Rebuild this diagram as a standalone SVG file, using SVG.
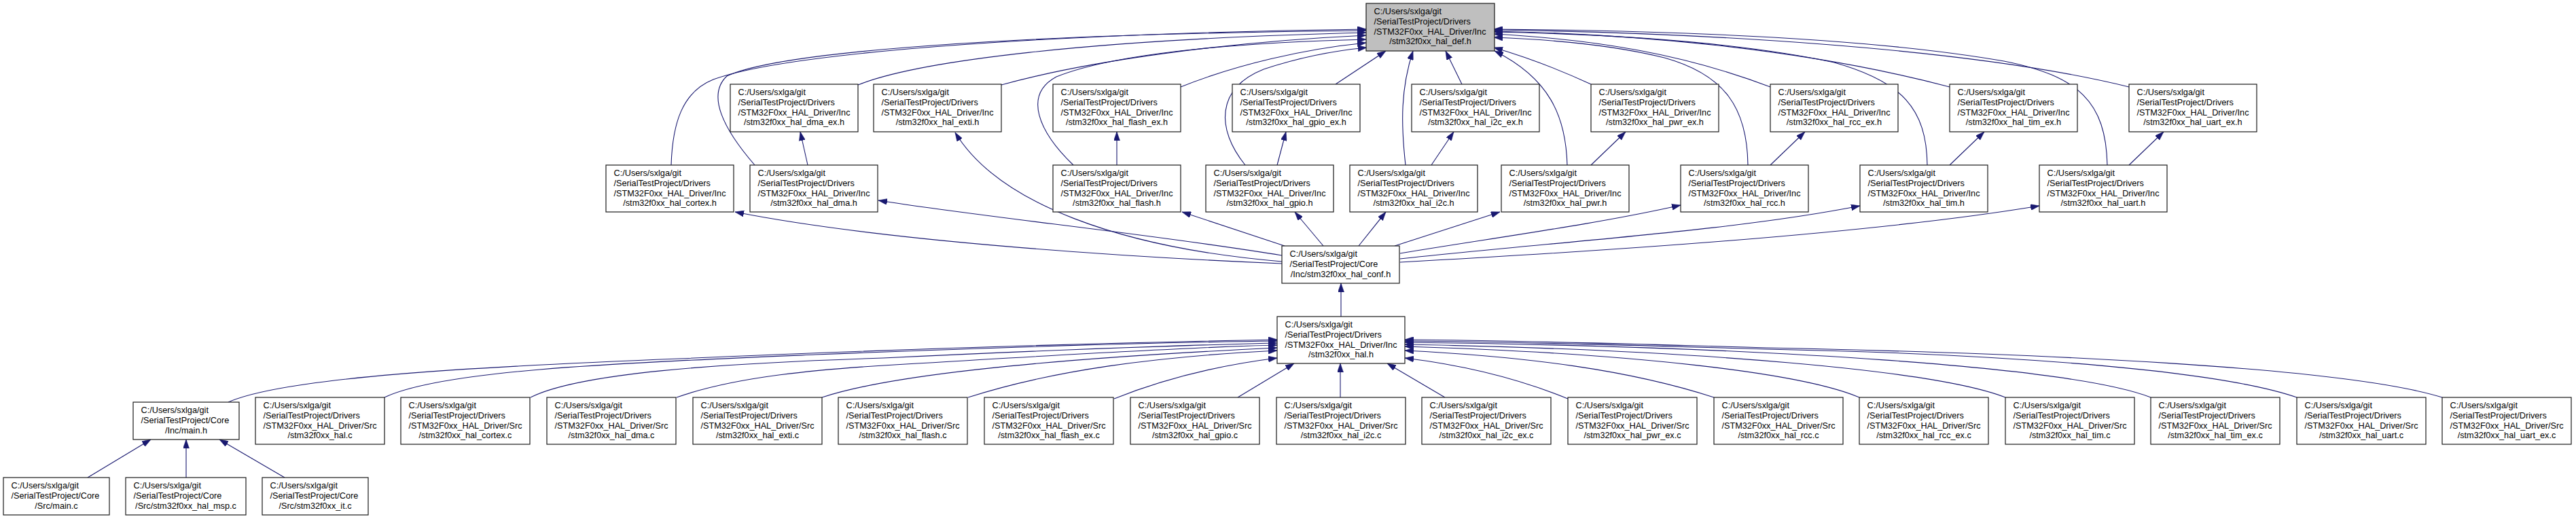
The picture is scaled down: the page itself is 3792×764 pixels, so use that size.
<svg xmlns="http://www.w3.org/2000/svg" width="3792" height="764" viewBox="0 0 3792 764">
<style>
.bg{fill:#ffffff}
.n rect{fill:#ffffff;stroke:#1a1a1a;stroke-width:1.2}
.n.root rect{fill:#bfbfbf}
.n text{font-family:"Liberation Sans",Arial,sans-serif;font-size:12.7px;fill:#000}
.n text.c{text-anchor:middle}
.e path{fill:none;stroke:#191970;stroke-width:1.1;marker-end:url(#ah)}
</style>
<defs>
<marker id="ah" viewBox="0 0 13 9" refX="13" refY="4.5" markerWidth="13" markerHeight="9" markerUnits="userSpaceOnUse" orient="auto">
<path d="M0,0 L13,4.5 L0,9 z" fill="#191970" stroke="#191970" stroke-width="0.6"/>
</marker>
</defs>
<rect class="bg" x="0" y="0" width="3792" height="764"/>

<g id="edges" class="e">
<!-- to hal_def.h -->
<path d="M988,243 C990,180 1005,135 1050,117 C1150,80 1500,50 2011,43"/>
<path d="M1111,243 C1065,190 1040,140 1070,112 C1150,75 1500,50 2011,45"/>
<path d="M1263,125 C1350,90 1600,58 2011,48"/>
<path d="M1474,125 C1600,90 1800,62 2011,52"/>
<path d="M1580,243 C1530,195 1505,140 1555,113 C1650,75 1850,62 2011,58"/>
<path d="M1738,128 C1820,95 1920,72 2011,63"/>
<path d="M1833,243 C1790,190 1790,130 1860,102 C1920,82 1970,74 2012,70"/>
<path d="M1966,124 L2040,75"/>
<path d="M2069,243 C2062,180 2062,130 2080,75"/>
<path d="M2152,124 L2128,75"/>
<path d="M2307,243 C2305,170 2280,115 2200,75"/>
<path d="M2342,124 C2290,100 2240,82 2199,70"/>
<path d="M2573,243 C2572,160 2540,110 2450,85 C2370,65 2280,58 2199,55"/>
<path d="M2606,128 C2480,80 2350,58 2199,50"/>
<path d="M2837,243 C2836,160 2800,120 2700,92 C2550,60 2350,50 2199,47"/>
<path d="M2870,128 C2650,70 2400,50 2199,46"/>
<path d="M3102,243 C3100,150 3060,112 2950,90 C2750,55 2450,45 2199,43"/>
<path d="M3134,128 C2900,70 2500,48 2199,44"/>
<!-- row2 to row1 -->
<path d="M1189,243 L1178,194"/>
<path d="M1644,243 L1644,194"/>
<path d="M1880,243 L1893,194"/>
<path d="M2107,243 L2140,194"/>
<path d="M2342,243 L2393,194"/>
<path d="M2606,243 L2657,194"/>
<path d="M2870,243 L2921,194"/>
<path d="M3134,243 L3185,194"/>
<!-- hal_conf to row2 / exti -->
<path d="M1887,388 C1650,378 1300,355 1082,312"/>
<path d="M1887,376 C1700,345 1450,320 1293,295"/>
<path d="M1887,385 C1650,365 1470,300 1406,195"/>
<path d="M1891,362 L1740,312"/>
<path d="M1948,362 L1906,312"/>
<path d="M2000,362 L2040,312"/>
<path d="M2053,362 L2208,312"/>
<path d="M2061,373 C2200,350 2350,330 2474,302"/>
<path d="M2061,381 C2300,355 2550,340 2738,303"/>
<path d="M2061,386 C2350,370 2750,345 3002,303"/>
<!-- hal.h to hal_conf -->
<path d="M1974,466 L1974,417"/>
<!-- row5 to hal.h -->
<path d="M336,592 C420,555 700,540 1000,528 C1300,515 1600,505 1880,500"/>
<path d="M566,585 C650,545 900,535 1200,522 C1450,512 1700,504 1880,502"/>
<path d="M781,585 C850,550 1050,535 1300,527 C1550,515 1750,508 1880,505"/>
<path d="M996,585 C1080,555 1200,543 1350,535 C1600,520 1780,510 1880,508"/>
<path d="M1210,585 C1300,555 1500,530 1880,512"/>
<path d="M1425,585 C1550,545 1700,525 1880,516"/>
<path d="M1640,587 C1720,555 1800,537 1880,527"/>
<path d="M1822,585 L1905,535"/>
<path d="M1973,585 L1973,535"/>
<path d="M2127,585 L2042,535"/>
<path d="M2308,587 C2230,555 2150,537 2068,527"/>
<path d="M2523,585 C2400,545 2250,525 2068,516"/>
<path d="M2737,585 C2650,548 2400,520 2068,510"/>
<path d="M2952,585 C2850,545 2500,515 2068,507"/>
<path d="M3166,585 C3050,540 2600,510 2068,504"/>
<path d="M3381,585 C3250,540 2900,520 2600,514 C2400,508 2200,503 2068,502"/>
<path d="M3595,585 C3450,540 3000,520 2600,512 C2400,506 2200,501 2068,500"/>
<!-- to main.h -->
<path d="M129,703 L222,647"/>
<path d="M274,703 L274,647"/>
<path d="M419,703 L323,647"/>
</g>

<!-- row 0 -->
<g id="hal_def_h" class="n root"><rect x="2011" y="5" width="189" height="70"/><text x="2022.5" y="21">C:/Users/sxlga/git</text><text x="2022.5" y="35.8">/SerialTestProject/Drivers</text><text x="2022.5" y="50.6">/STM32F0xx_HAL_Driver/Inc</text><text class="c" x="2105.5" y="65.4">/stm32f0xx_hal_def.h</text></g>

<!-- row 1 -->
<g id="hal_dma_ex_h" class="n"><rect x="1075" y="124" width="188" height="70"/><text x="1086.5" y="140">C:/Users/sxlga/git</text><text x="1086.5" y="154.8">/SerialTestProject/Drivers</text><text x="1086.5" y="169.6">/STM32F0xx_HAL_Driver/Inc</text><text class="c" x="1169" y="184.4">/stm32f0xx_hal_dma_ex.h</text></g>
<g id="hal_exti_h" class="n"><rect x="1286" y="124" width="188" height="70"/><text x="1297.5" y="140">C:/Users/sxlga/git</text><text x="1297.5" y="154.8">/SerialTestProject/Drivers</text><text x="1297.5" y="169.6">/STM32F0xx_HAL_Driver/Inc</text><text class="c" x="1380" y="184.4">/stm32f0xx_hal_exti.h</text></g>
<g id="hal_flash_ex_h" class="n"><rect x="1550" y="124" width="188" height="70"/><text x="1561.5" y="140">C:/Users/sxlga/git</text><text x="1561.5" y="154.8">/SerialTestProject/Drivers</text><text x="1561.5" y="169.6">/STM32F0xx_HAL_Driver/Inc</text><text class="c" x="1644" y="184.4">/stm32f0xx_hal_flash_ex.h</text></g>
<g id="hal_gpio_ex_h" class="n"><rect x="1814" y="124" width="188" height="70"/><text x="1825.5" y="140">C:/Users/sxlga/git</text><text x="1825.5" y="154.8">/SerialTestProject/Drivers</text><text x="1825.5" y="169.6">/STM32F0xx_HAL_Driver/Inc</text><text class="c" x="1908" y="184.4">/stm32f0xx_hal_gpio_ex.h</text></g>
<g id="hal_i2c_ex_h" class="n"><rect x="2078" y="124" width="188" height="70"/><text x="2089.5" y="140">C:/Users/sxlga/git</text><text x="2089.5" y="154.8">/SerialTestProject/Drivers</text><text x="2089.5" y="169.6">/STM32F0xx_HAL_Driver/Inc</text><text class="c" x="2172" y="184.4">/stm32f0xx_hal_i2c_ex.h</text></g>
<g id="hal_pwr_ex_h" class="n"><rect x="2342" y="124" width="188" height="70"/><text x="2353.5" y="140">C:/Users/sxlga/git</text><text x="2353.5" y="154.8">/SerialTestProject/Drivers</text><text x="2353.5" y="169.6">/STM32F0xx_HAL_Driver/Inc</text><text class="c" x="2436" y="184.4">/stm32f0xx_hal_pwr_ex.h</text></g>
<g id="hal_rcc_ex_h" class="n"><rect x="2606" y="124" width="188" height="70"/><text x="2617.5" y="140">C:/Users/sxlga/git</text><text x="2617.5" y="154.8">/SerialTestProject/Drivers</text><text x="2617.5" y="169.6">/STM32F0xx_HAL_Driver/Inc</text><text class="c" x="2700" y="184.4">/stm32f0xx_hal_rcc_ex.h</text></g>
<g id="hal_tim_ex_h" class="n"><rect x="2870" y="124" width="188" height="70"/><text x="2881.5" y="140">C:/Users/sxlga/git</text><text x="2881.5" y="154.8">/SerialTestProject/Drivers</text><text x="2881.5" y="169.6">/STM32F0xx_HAL_Driver/Inc</text><text class="c" x="2964" y="184.4">/stm32f0xx_hal_tim_ex.h</text></g>
<g id="hal_uart_ex_h" class="n"><rect x="3134" y="124" width="188" height="70"/><text x="3145.5" y="140">C:/Users/sxlga/git</text><text x="3145.5" y="154.8">/SerialTestProject/Drivers</text><text x="3145.5" y="169.6">/STM32F0xx_HAL_Driver/Inc</text><text class="c" x="3228" y="184.4">/stm32f0xx_hal_uart_ex.h</text></g>

<!-- row 2 -->
<g id="hal_cortex_h" class="n"><rect x="892" y="243" width="188" height="69"/><text x="903.5" y="259">C:/Users/sxlga/git</text><text x="903.5" y="273.8">/SerialTestProject/Drivers</text><text x="903.5" y="288.6">/STM32F0xx_HAL_Driver/Inc</text><text class="c" x="986" y="303.4">/stm32f0xx_hal_cortex.h</text></g>
<g id="hal_dma_h" class="n"><rect x="1104" y="243" width="188" height="69"/><text x="1115.5" y="259">C:/Users/sxlga/git</text><text x="1115.5" y="273.8">/SerialTestProject/Drivers</text><text x="1115.5" y="288.6">/STM32F0xx_HAL_Driver/Inc</text><text class="c" x="1198" y="303.4">/stm32f0xx_hal_dma.h</text></g>
<g id="hal_flash_h" class="n"><rect x="1550" y="243" width="188" height="69"/><text x="1561.5" y="259">C:/Users/sxlga/git</text><text x="1561.5" y="273.8">/SerialTestProject/Drivers</text><text x="1561.5" y="288.6">/STM32F0xx_HAL_Driver/Inc</text><text class="c" x="1644" y="303.4">/stm32f0xx_hal_flash.h</text></g>
<g id="hal_gpio_h" class="n"><rect x="1775" y="243" width="188" height="69"/><text x="1786.5" y="259">C:/Users/sxlga/git</text><text x="1786.5" y="273.8">/SerialTestProject/Drivers</text><text x="1786.5" y="288.6">/STM32F0xx_HAL_Driver/Inc</text><text class="c" x="1869" y="303.4">/stm32f0xx_hal_gpio.h</text></g>
<g id="hal_i2c_h" class="n"><rect x="1987" y="243" width="188" height="69"/><text x="1998.5" y="259">C:/Users/sxlga/git</text><text x="1998.5" y="273.8">/SerialTestProject/Drivers</text><text x="1998.5" y="288.6">/STM32F0xx_HAL_Driver/Inc</text><text class="c" x="2081" y="303.4">/stm32f0xx_hal_i2c.h</text></g>
<g id="hal_pwr_h" class="n"><rect x="2210" y="243" width="188" height="69"/><text x="2221.5" y="259">C:/Users/sxlga/git</text><text x="2221.5" y="273.8">/SerialTestProject/Drivers</text><text x="2221.5" y="288.6">/STM32F0xx_HAL_Driver/Inc</text><text class="c" x="2304" y="303.4">/stm32f0xx_hal_pwr.h</text></g>
<g id="hal_rcc_h" class="n"><rect x="2474" y="243" width="188" height="69"/><text x="2485.5" y="259">C:/Users/sxlga/git</text><text x="2485.5" y="273.8">/SerialTestProject/Drivers</text><text x="2485.5" y="288.6">/STM32F0xx_HAL_Driver/Inc</text><text class="c" x="2568" y="303.4">/stm32f0xx_hal_rcc.h</text></g>
<g id="hal_tim_h" class="n"><rect x="2738" y="243" width="188" height="69"/><text x="2749.5" y="259">C:/Users/sxlga/git</text><text x="2749.5" y="273.8">/SerialTestProject/Drivers</text><text x="2749.5" y="288.6">/STM32F0xx_HAL_Driver/Inc</text><text class="c" x="2832" y="303.4">/stm32f0xx_hal_tim.h</text></g>
<g id="hal_uart_h" class="n"><rect x="3002" y="243" width="188" height="69"/><text x="3013.5" y="259">C:/Users/sxlga/git</text><text x="3013.5" y="273.8">/SerialTestProject/Drivers</text><text x="3013.5" y="288.6">/STM32F0xx_HAL_Driver/Inc</text><text class="c" x="3096" y="303.4">/stm32f0xx_hal_uart.h</text></g>

<!-- row 3 / 4 -->
<g id="hal_conf_h" class="n"><rect x="1887" y="362" width="173" height="55"/><text x="1898.5" y="378">C:/Users/sxlga/git</text><text x="1898.5" y="392.8">/SerialTestProject/Core</text><text class="c" x="1973.5" y="407.6">/Inc/stm32f0xx_hal_conf.h</text></g>
<g id="hal_h" class="n"><rect x="1880" y="466" width="188" height="69"/><text x="1891.5" y="482">C:/Users/sxlga/git</text><text x="1891.5" y="496.8">/SerialTestProject/Drivers</text><text x="1891.5" y="511.6">/STM32F0xx_HAL_Driver/Inc</text><text class="c" x="1974" y="526.4">/stm32f0xx_hal.h</text></g>

<!-- row 5 -->
<g id="main_h" class="n"><rect x="196" y="592" width="156" height="55"/><text x="207.5" y="608">C:/Users/sxlga/git</text><text x="207.5" y="622.8">/SerialTestProject/Core</text><text class="c" x="274" y="637.6">/Inc/main.h</text></g>
<g id="hal_c" class="n"><rect x="376" y="585" width="190" height="69"/><text x="387.5" y="601">C:/Users/sxlga/git</text><text x="387.5" y="615.8">/SerialTestProject/Drivers</text><text x="387.5" y="630.6">/STM32F0xx_HAL_Driver/Src</text><text class="c" x="471" y="645.4">/stm32f0xx_hal.c</text></g>
<g id="hal_cortex_c" class="n"><rect x="590" y="585" width="190" height="69"/><text x="601.5" y="601">C:/Users/sxlga/git</text><text x="601.5" y="615.8">/SerialTestProject/Drivers</text><text x="601.5" y="630.6">/STM32F0xx_HAL_Driver/Src</text><text class="c" x="685" y="645.4">/stm32f0xx_hal_cortex.c</text></g>
<g id="hal_dma_c" class="n"><rect x="805" y="585" width="190" height="69"/><text x="816.5" y="601">C:/Users/sxlga/git</text><text x="816.5" y="615.8">/SerialTestProject/Drivers</text><text x="816.5" y="630.6">/STM32F0xx_HAL_Driver/Src</text><text class="c" x="900" y="645.4">/stm32f0xx_hal_dma.c</text></g>
<g id="hal_exti_c" class="n"><rect x="1020" y="585" width="190" height="69"/><text x="1031.5" y="601">C:/Users/sxlga/git</text><text x="1031.5" y="615.8">/SerialTestProject/Drivers</text><text x="1031.5" y="630.6">/STM32F0xx_HAL_Driver/Src</text><text class="c" x="1115" y="645.4">/stm32f0xx_hal_exti.c</text></g>
<g id="hal_flash_c" class="n"><rect x="1234" y="585" width="190" height="69"/><text x="1245.5" y="601">C:/Users/sxlga/git</text><text x="1245.5" y="615.8">/SerialTestProject/Drivers</text><text x="1245.5" y="630.6">/STM32F0xx_HAL_Driver/Src</text><text class="c" x="1329" y="645.4">/stm32f0xx_hal_flash.c</text></g>
<g id="hal_flash_ex_c" class="n"><rect x="1449" y="585" width="190" height="69"/><text x="1460.5" y="601">C:/Users/sxlga/git</text><text x="1460.5" y="615.8">/SerialTestProject/Drivers</text><text x="1460.5" y="630.6">/STM32F0xx_HAL_Driver/Src</text><text class="c" x="1544" y="645.4">/stm32f0xx_hal_flash_ex.c</text></g>
<g id="hal_gpio_c" class="n"><rect x="1664" y="585" width="190" height="69"/><text x="1675.5" y="601">C:/Users/sxlga/git</text><text x="1675.5" y="615.8">/SerialTestProject/Drivers</text><text x="1675.5" y="630.6">/STM32F0xx_HAL_Driver/Src</text><text class="c" x="1759" y="645.4">/stm32f0xx_hal_gpio.c</text></g>
<g id="hal_i2c_c" class="n"><rect x="1879" y="585" width="190" height="69"/><text x="1890.5" y="601">C:/Users/sxlga/git</text><text x="1890.5" y="615.8">/SerialTestProject/Drivers</text><text x="1890.5" y="630.6">/STM32F0xx_HAL_Driver/Src</text><text class="c" x="1974" y="645.4">/stm32f0xx_hal_i2c.c</text></g>
<g id="hal_i2c_ex_c" class="n"><rect x="2093" y="585" width="190" height="69"/><text x="2104.5" y="601">C:/Users/sxlga/git</text><text x="2104.5" y="615.8">/SerialTestProject/Drivers</text><text x="2104.5" y="630.6">/STM32F0xx_HAL_Driver/Src</text><text class="c" x="2188" y="645.4">/stm32f0xx_hal_i2c_ex.c</text></g>
<g id="hal_pwr_ex_c" class="n"><rect x="2308" y="585" width="190" height="69"/><text x="2319.5" y="601">C:/Users/sxlga/git</text><text x="2319.5" y="615.8">/SerialTestProject/Drivers</text><text x="2319.5" y="630.6">/STM32F0xx_HAL_Driver/Src</text><text class="c" x="2403" y="645.4">/stm32f0xx_hal_pwr_ex.c</text></g>
<g id="hal_rcc_c" class="n"><rect x="2523" y="585" width="190" height="69"/><text x="2534.5" y="601">C:/Users/sxlga/git</text><text x="2534.5" y="615.8">/SerialTestProject/Drivers</text><text x="2534.5" y="630.6">/STM32F0xx_HAL_Driver/Src</text><text class="c" x="2618" y="645.4">/stm32f0xx_hal_rcc.c</text></g>
<g id="hal_rcc_ex_c" class="n"><rect x="2737" y="585" width="190" height="69"/><text x="2748.5" y="601">C:/Users/sxlga/git</text><text x="2748.5" y="615.8">/SerialTestProject/Drivers</text><text x="2748.5" y="630.6">/STM32F0xx_HAL_Driver/Src</text><text class="c" x="2832" y="645.4">/stm32f0xx_hal_rcc_ex.c</text></g>
<g id="hal_tim_c" class="n"><rect x="2952" y="585" width="190" height="69"/><text x="2963.5" y="601">C:/Users/sxlga/git</text><text x="2963.5" y="615.8">/SerialTestProject/Drivers</text><text x="2963.5" y="630.6">/STM32F0xx_HAL_Driver/Src</text><text class="c" x="3047" y="645.4">/stm32f0xx_hal_tim.c</text></g>
<g id="hal_tim_ex_c" class="n"><rect x="3166" y="585" width="190" height="69"/><text x="3177.5" y="601">C:/Users/sxlga/git</text><text x="3177.5" y="615.8">/SerialTestProject/Drivers</text><text x="3177.5" y="630.6">/STM32F0xx_HAL_Driver/Src</text><text class="c" x="3261" y="645.4">/stm32f0xx_hal_tim_ex.c</text></g>
<g id="hal_uart_c" class="n"><rect x="3381" y="585" width="190" height="69"/><text x="3392.5" y="601">C:/Users/sxlga/git</text><text x="3392.5" y="615.8">/SerialTestProject/Drivers</text><text x="3392.5" y="630.6">/STM32F0xx_HAL_Driver/Src</text><text class="c" x="3476" y="645.4">/stm32f0xx_hal_uart.c</text></g>
<g id="hal_uart_ex_c" class="n"><rect x="3595" y="585" width="190" height="69"/><text x="3606.5" y="601">C:/Users/sxlga/git</text><text x="3606.5" y="615.8">/SerialTestProject/Drivers</text><text x="3606.5" y="630.6">/STM32F0xx_HAL_Driver/Src</text><text class="c" x="3690" y="645.4">/stm32f0xx_hal_uart_ex.c</text></g>

<!-- row 6 -->
<g id="main_c" class="n"><rect x="5" y="703" width="156" height="55"/><text x="16.5" y="719">C:/Users/sxlga/git</text><text x="16.5" y="733.8">/SerialTestProject/Core</text><text class="c" x="83" y="748.6">/Src/main.c</text></g>
<g id="hal_msp_c" class="n"><rect x="185" y="703" width="177" height="55"/><text x="196.5" y="719">C:/Users/sxlga/git</text><text x="196.5" y="733.8">/SerialTestProject/Core</text><text class="c" x="273.5" y="748.6">/Src/stm32f0xx_hal_msp.c</text></g>
<g id="it_c" class="n"><rect x="386" y="703" width="156" height="55"/><text x="397.5" y="719">C:/Users/sxlga/git</text><text x="397.5" y="733.8">/SerialTestProject/Core</text><text class="c" x="464" y="748.6">/Src/stm32f0xx_it.c</text></g>
</svg>
